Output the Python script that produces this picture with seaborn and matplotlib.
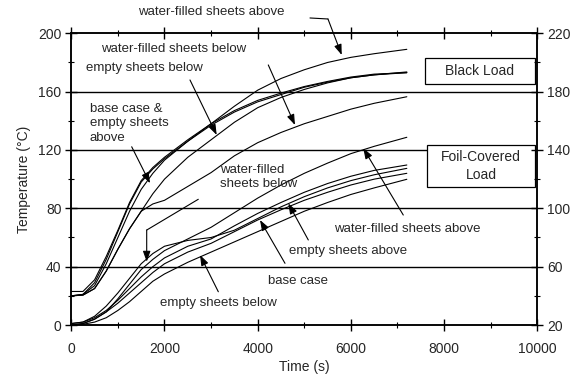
import numpy as np
import pandas as pd
import matplotlib
matplotlib.use("Agg")
import matplotlib.pyplot as plt
from matplotlib.patches import Rectangle
from matplotlib.ticker import MultipleLocator
import seaborn as sns

# ---------------- data ----------------
time_s = [0, 250, 500, 750, 1000, 1250, 1500, 1750, 2000, 2500, 3000, 3500,
          4000, 4500, 5000, 5500, 6000, 6500, 7200]

# Black load
black_base = [20, 21, 29, 45, 64, 83, 98, 107, 114, 126, 137, 146, 153, 158, 163, 166.5, 169.5, 171.5, 173.5]
black_empty_above = [23, 23, 31, 47, 65, 84, 99, 108, 115, 127, 138, 147, 154, 159, 163.5, 167, 170, 172, 173]
black_water_above = [20, 21, 27, 42, 60, 78, 93, 104, 113, 126, 138, 150, 161, 169, 175, 180, 183.5, 186, 189]
black_empty_below = [20, 20.5, 25, 37, 52, 66, 78, 90, 100, 115, 127, 139, 149, 156, 161.5, 166, 169.5, 171.5, 173]
black_water_below = [20, 20.5, 25, 37, 52, 66, 78, 83, 85.5, 95, 104.5, 116, 125, 132, 138, 143, 148, 152, 156.5]

# Foil-covered load
foil_water_above = [0, 1, 4, 9, 18, 28, 38, 45, 51, 59, 67, 77, 87, 96, 104, 111, 117.5, 122.5, 128.7]
foil_empty_above = [1, 2, 5, 10, 17, 25, 33, 40, 46, 54, 59, 68, 76.5, 84, 91, 97, 102, 106, 109.7]
foil_water_below = [1, 2, 6, 13, 22, 32, 42, 49, 54, 58, 60, 65, 73, 81, 88, 94, 99, 103, 107.4]
foil_base = [0, 1, 4, 9, 15, 22, 29, 36, 42, 50, 56, 64, 72, 79, 85.5, 91, 96, 100, 104]
foil_empty_below = [0, 0.5, 2, 5, 10, 16, 23, 30, 35, 43, 50, 57, 64, 71, 78, 84, 89.5, 94, 99.9]

series = {
    "black_base": black_base,
    "black_empty_above": black_empty_above,
    "black_water_above": black_water_above,
    "black_empty_below": black_empty_below,
    "black_water_below": black_water_below,
    "foil_water_above": foil_water_above,
    "foil_empty_above": foil_empty_above,
    "foil_water_below": foil_water_below,
    "foil_base": foil_base,
    "foil_empty_below": foil_empty_below,
}

left_ticks = [0, 40, 80, 120, 160, 200]
right_ticks = [20, 60, 100, 140, 180, 220]
x_ticks = [0, 2000, 4000, 6000, 8000, 10000]

rows = []
for name, vals in series.items():
    for t, v in zip(time_s, vals):
        rows.append({"series": name, "time": t, "temp": v})
df = pd.DataFrame(rows)

# ---------------- style ----------------
sns.set_theme(style="white")
plt.rcParams["font.family"] = ["Liberation Sans", "DejaVu Sans"]
plt.rcParams["font.size"] = 9.5

fig = plt.figure(figsize=(5.83, 3.80), dpi=100)
ax = fig.add_axes([0.1223, 0.1447, 0.9216 - 0.1223, 0.9124 - 0.1447])

sns.lineplot(data=df, x="time", y="temp", units="series", estimator=None,
             color="black", lw=0.8, ax=ax, legend=False)

tfs = 10
ax.set_xlim(0, 10000)
ax.set_ylim(0, 200)
ax.set_xticks(x_ticks)
ax.set_xticklabels([str(v) for v in x_ticks], fontsize=tfs)
ax.set_yticks(left_ticks)
ax.set_yticklabels([str(v) for v in left_ticks], fontsize=tfs)
ax.xaxis.set_minor_locator(MultipleLocator(1000))
ax.yaxis.set_minor_locator(MultipleLocator(20))
for y in left_ticks[1:-1]:
    ax.axhline(y, color="black", lw=1.0, zorder=0.5)

ax.tick_params(which="major", direction="inout", length=8, width=1.0, color="black",
               top=True, bottom=True, left=True, right=False, labelsize=tfs)
ax.tick_params(axis="x", which="major", pad=8)
ax.tick_params(axis="y", which="major", pad=3)
ax.tick_params(which="minor", direction="inout", length=5, width=0.8, color="black",
               top=True, bottom=True, left=True, right=False)
for sp in ax.spines.values():
    sp.set_color("black")
    sp.set_linewidth(1.1)

ax2 = ax.twinx()
ax2.set_ylim(20, 220)
ax2.set_yticks(right_ticks)
ax2.set_yticklabels([str(v) for v in right_ticks], fontsize=tfs)
ax2.yaxis.set_minor_locator(MultipleLocator(20))
ax2.tick_params(which="major", direction="inout", length=8, width=1.0, color="black", labelsize=tfs, pad=3)
ax2.tick_params(which="minor", direction="inout", length=5, width=0.8, color="black")
for sp in ax2.spines.values():
    sp.set_color("black")
    sp.set_linewidth(1.1)

ax.set_xlabel("Time (s)", fontsize=tfs, labelpad=3)
ax.set_ylabel("Temperature (°C)", fontsize=tfs, labelpad=5)

# ---------------- annotations ----------------
aprops = dict(arrowstyle="-|>,head_length=0.7,head_width=0.25", color="black", lw=0.8,
              mutation_scale=9, shrinkA=0, shrinkB=0)

def arrow(x0, y0, x1, y1):
    ax.annotate("", xy=(x1, y1), xytext=(x0, y0), arrowprops=aprops,
                annotation_clip=False)

def seg(x0, y0, x1, y1):
    ax.plot([x0, x1], [y0, y1], color="black", lw=0.8, clip_on=False)

fs = 9.5
# Black load labels
ax.text(2998, 214.6, "water-filled sheets above", ha="center", va="center", fontsize=fs)
seg(5122, 210.5, 5508, 209.8)
arrow(5508, 209.8, 5803, 185.1)

ax.text(2193, 189.2, "water-filled sheets below", ha="center", va="center", fontsize=fs)
arrow(4227, 178.3, 4800, 137.1)

ax.text(1560, 176.2, "empty sheets below", ha="center", va="center", fontsize=fs)
arrow(2547, 168, 3120, 130.3)

ax.text(401, 138.3, "base case &\nempty sheets\nabove", ha="left", va="center",
        fontsize=fs, linespacing=1.25)
arrow(1296, 122.2, 1689, 97.2)

# Foil labels
ax.text(3191, 101.5, "water-filled\nsheets below", ha="left", va="center",
        fontsize=fs, linespacing=1.25)
seg(2725, 86.2, 1618, 65.1)
arrow(1618, 65.1, 1618, 43.4)

ax.text(7215, 65.8, "water-filled sheets above", ha="center", va="center", fontsize=fs)
arrow(7124, 75.4, 6266, 121.2)

ax.text(5938, 50.7, "empty sheets above", ha="center", va="center", fontsize=fs)
arrow(5086, 58.3, 4657, 83.4)

ax.text(4865, 30.2, "base case", ha="center", va="center", fontsize=fs)
arrow(4586, 42.3, 4049, 72)

ax.text(3159, 15.4, "empty sheets below", ha="center", va="center", fontsize=fs)
arrow(3155, 22.8, 2762, 48)

# Boxes
ax.add_patch(Rectangle((7590, 165.2), 2360, 17.7, facecolor="white",
                       edgecolor="black", lw=0.9, zorder=3))
ax.text(8770, 174, "Black Load", ha="center", va="center", fontsize=10, zorder=4)
ax.add_patch(Rectangle((7627, 94.8), 2323, 28.6, facecolor="white",
                       edgecolor="black", lw=0.9, zorder=3))
ax.text(8790, 109, "Foil-Covered\nLoad", ha="center", va="center", fontsize=10,
        linespacing=1.3, zorder=4)

fig.savefig("out.png", dpi=100)
